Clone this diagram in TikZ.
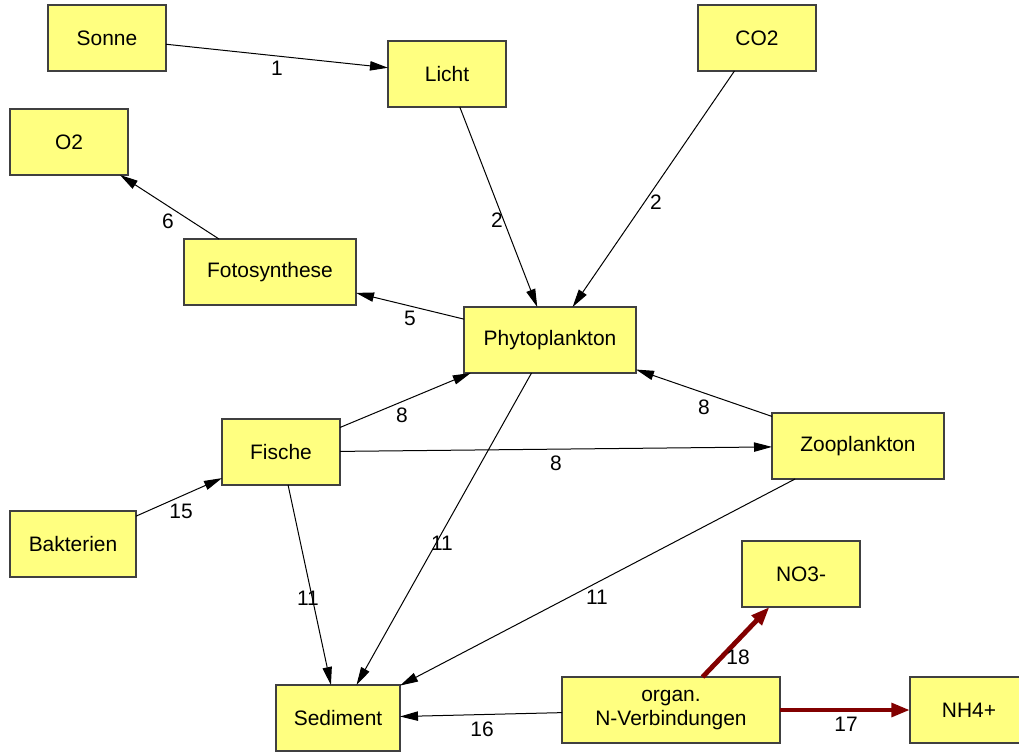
\documentclass[tikz,border=0pt]{standalone}
\usepackage{fontspec}
\setmainfont{Liberation Sans}
\usetikzlibrary{arrows.meta}
\definecolor{boxfill}{RGB}{255,255,128}
\definecolor{boxdraw}{RGB}{64,64,64}
\definecolor{darkred}{RGB}{130,0,0}
\begin{document}
\begin{tikzpicture}[x=0.75pt,y=-0.75pt,
  box/.style={draw=boxdraw,fill=boxfill,line width=0.8pt,minimum height=49.5pt,inner sep=0pt,outer sep=0pt,align=center,font=\fontsize{15.7}{18}\selectfont},
  sbox/.style={box,minimum width=88.5pt},
  wbox/.style={box,minimum width=129pt},
  arr/.style={draw=black,line width=0.75pt,-{Triangle[length=13.5pt,width=7pt]}},
  redarr/.style={draw=darkred,line width=3.6pt,-{Triangle[length=14pt,width=10pt]}},
  lbl/.style={inner sep=0pt,font=\fontsize{15.7}{18}\selectfont}]
\useasboundingbox (0,0) rectangle (1019,751);
% nodes
\node[sbox] (sonne) at (107,38) {Sonne};
\node[sbox] (licht) at (447,74) {Licht};
\node[sbox] (co2) at (757,38) {CO2};
\node[sbox] (o2) at (69,142) {O2};
\node[wbox] (foto) at (270,272) {Fotosynthese};
\node[wbox] (phyto) at (550,340) {Phytoplankton};
\node[sbox] (fische) at (281,452) {Fische};
\node[wbox] (zoo) at (858,446) {Zooplankton};
\node[box,minimum width=94.5pt] (bakt) at (73,544) {Bakterien};
\node[sbox] (no3) at (801,574) {NO3-};
\node[box,minimum width=93pt] (sed) at (338,718) {Sediment};
\node[box,minimum width=163.5pt] (organ) at (671,710) {organ.\\N-Verbindungen};
\node[sbox] (nh4) at (969,710) {NH4+};
% connectors
\draw[arr] (sonne) -- (licht);
\draw[arr] (licht) -- (phyto);
\draw[arr] (co2) -- (phyto);
\draw[arr] (phyto) -- (foto);
\draw[arr] (foto) -- (o2);
\draw[arr] (fische) -- (phyto);
\draw[arr] (fische) -- (zoo);
\draw[arr] (zoo) -- (phyto);
\draw[arr] (bakt) -- (fische);
\draw[arr] (fische) -- (sed);
\draw[arr] (phyto) -- (sed);
\draw[arr] (zoo) -- (sed);
\draw[arr] (organ) -- (sed);
\draw[redarr] (organ) -- (no3);
\draw[redarr] (organ) -- (nh4);
% labels
\node[lbl] (l1) at (277,68) {1};
\node[lbl] (l2a) at (497,220) {2};
\node[lbl] (l2b) at (656,202) {2};
\node[lbl] (l5) at (410,318) {5};
\node[lbl] (l6) at (168,221) {6};
\node[lbl] (l8a) at (402,415) {8};
\node[lbl] (l8b) at (556,463) {8};
\node[lbl] (l8c) at (704,407) {8};
\node[lbl] (l15) at (181,511) {15};
\node[lbl] (l11a) at (308,598) {11};
\node[lbl] (l11b) at (442,543) {11};
\node[lbl] (l11c) at (597,597) {11};
\node[lbl] (l16) at (482,729) {16};
\node[lbl] (l18) at (738,657) {18};
\node[lbl] (l17) at (846,724) {17};
\end{tikzpicture}
\end{document}
